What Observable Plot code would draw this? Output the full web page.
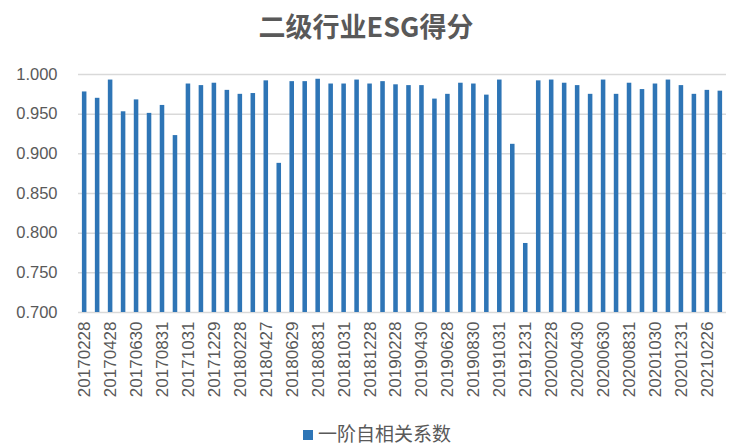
<!DOCTYPE html>
<html><head><meta charset="utf-8">
<script src="https://cdn.jsdelivr.net/npm/d3@7"></script>
<script src="https://cdn.jsdelivr.net/npm/@observablehq/plot@0.6"></script>
<style>
body{margin:0;background:#fff;font-family:"Liberation Sans",Arial,sans-serif;}
#wrap{width:732px;height:447px;position:relative;}
#title{height:52px;line-height:52px;text-align:center;font-family:"Noto Sans CJK SC",sans-serif;font-weight:bold;font-size:27px;color:#595959;}
#legend{position:absolute;top:419px;left:303px;font-family:"Noto Sans CJK SC",sans-serif;font-size:19px;line-height:28px;color:#595959;white-space:nowrap;}
#legend span.sw{display:inline-block;width:10px;height:10px;background:#2E75B6;margin-right:5px;vertical-align:1px;}
</style></head>
<body><div id="wrap"><div id="title">二级行业ESG得分</div><div id="chart"></div><div id="legend"><span class="sw"></span>一阶自相关系数</div></div>
<script>
const dates = ["20170228","20170331","20170428","20170531","20170630","20170731","20170831","20170929","20171031","20171130",
"20171229","20180131","20180228","20180330","20180427","20180531","20180629","20180731","20180831","20180928",
"20181031","20181130","20181228","20190131","20190228","20190329","20190430","20190531","20190628","20190731",
"20190830","20190930","20191031","20191129","20191231","20200123","20200228","20200331","20200430","20200529",
"20200630","20200731","20200831","20200930","20201030","20201130","20201231","20210129","20210226","20210331"];
const values = [0.978,0.970,0.993,0.953,0.968,0.951,0.961,0.923,0.988,0.986,
0.989,0.980,0.975,0.976,0.992,0.888,0.991,0.991,0.994,0.988,
0.988,0.993,0.988,0.991,0.987,0.986,0.986,0.969,0.975,0.989,
0.988,0.974,0.993,0.912,0.787,0.992,0.993,0.989,0.986,0.975,
0.993,0.975,0.989,0.981,0.988,0.993,0.986,0.975,0.980,0.979];
const yTicks = [0.70,0.75,0.80,0.85,0.90,0.95,1.00];
const labelDates = dates.filter((d,i)=>i%2===0);
const data = dates.map((d,i)=>({date:d, value:values[i]}));

const chart = Plot.plot({
  width:732, height:355,
  marginTop:22, marginBottom:95, marginLeft:78, marginRight:6,
  style:{fontFamily:"'Liberation Sans', Arial, sans-serif", fontSize:"13px", color:"#595959", background:"#fff"},
  x:{domain:dates, paddingInner:0.65, paddingOuter:0.3, align:0.5, label:null, axis:null},
  y:{domain:[0.7,1.0], label:null, axis:null},
  marks:[
    Plot.ruleY(yTicks,{stroke:"#d9d9d9", strokeWidth:1.5}),
    Plot.barY(data,{x:"date", y1:0.7, y2:"value", fill:"#2E75B6"}),
    Plot.axisX({ticks:labelDates, tickSize:0, tickPadding:9, tickRotate:-90, fontSize:17, label:null}),
    Plot.axisY({ticks:yTicks, tickFormat:d3.format(".3f"), tickSize:0, tickPadding:21, fontSize:16.5, label:null})
  ]
});
document.getElementById("chart").appendChild(chart);
</script></body></html>
